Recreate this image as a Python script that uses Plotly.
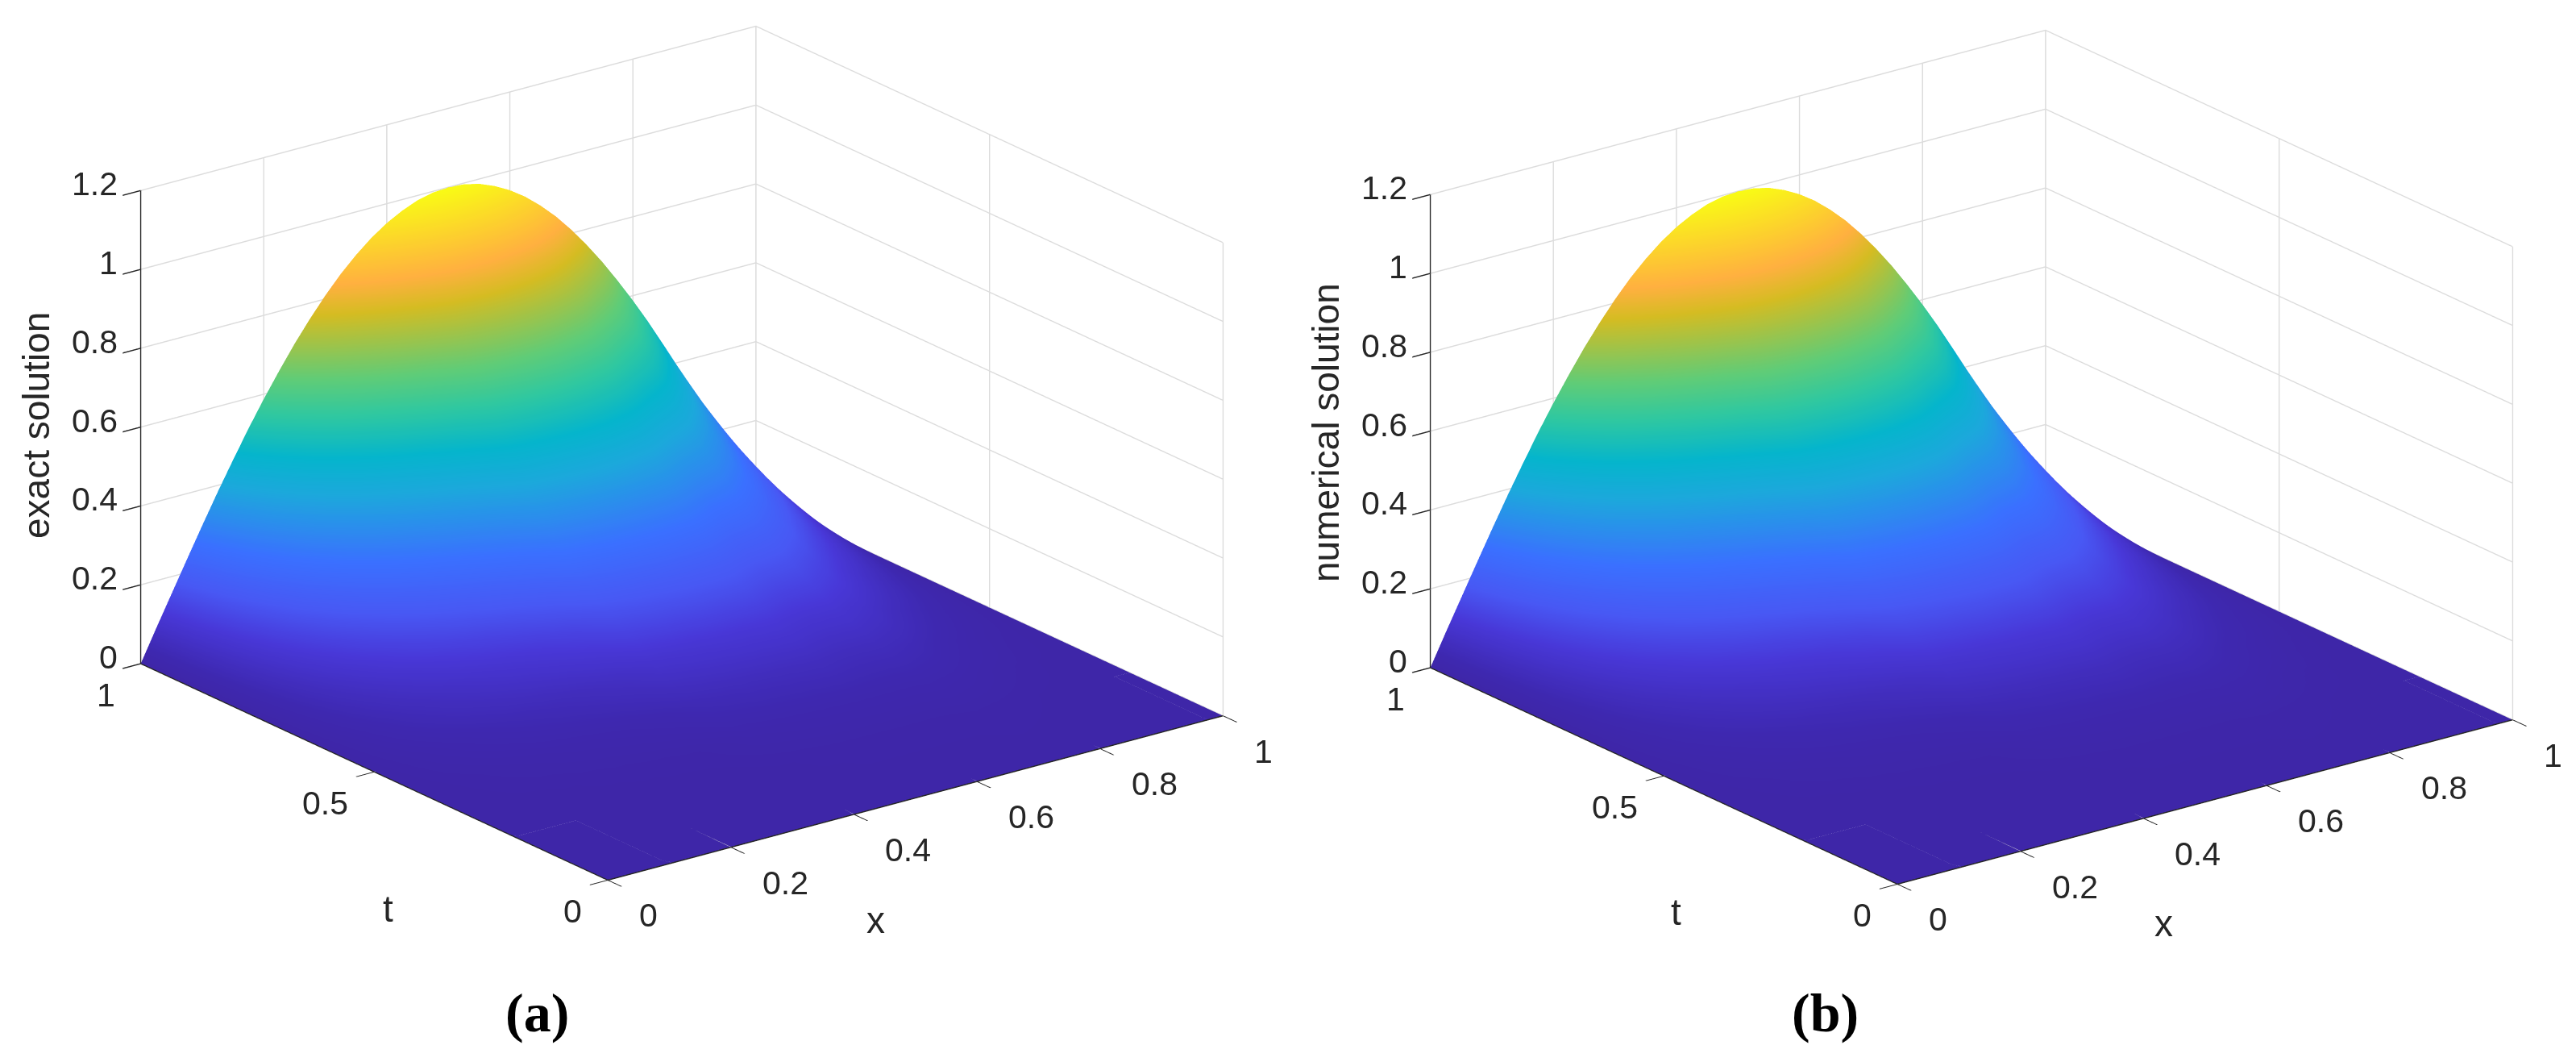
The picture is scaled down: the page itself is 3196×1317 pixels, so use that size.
import plotly.graph_objects as go

x_values = [0, 0.025, 0.05, 0.075, 0.1, 0.125, 0.15, 0.175, 0.2, 0.225, 0.25, 0.275, 0.3, 0.325,
            0.35, 0.375, 0.4, 0.425, 0.45, 0.475, 0.5, 0.525, 0.55, 0.575, 0.6, 0.625, 0.65,
            0.675, 0.7, 0.725, 0.75, 0.775, 0.8, 0.825, 0.85, 0.875, 0.9, 0.925, 0.95, 0.975, 1]
t_values = [0, 0.2, 0.3, 0.4, 0.5, 0.6, 0.65, 0.7, 0.75, 0.8, 0.85, 0.9, 0.95, 1]

# one row per t (both panels look the same)
exact_solution = [
    [0] * 41,
    [0, 0, 0, 0, 0, .001, .001, .001, .001, .001, .001, .001, .001, .001, .001, .002, .003, .004, .004, .005, .005,
     .006, .006, .006, .006, .006, .006, .006, .006, .007, .008, .007, .006, .005, .004, .003, .002, .001, .001, 0, 0],
    [0, .001, .001, .002, .003, .003, .004, .004, .005, .005, .006, .006, .007, .007, .008, .008, .011, .013, .017, .017, .019,
     .020, .021, .022, .022, .023, .023, .023, .023, .023, .024, .022, .020, .016, .012, .009, .007, .004, .003, .001, 0],
    [0, .002, .004, .006, .008, .010, .012, .013, .015, .017, .018, .019, .021, .023, .025, .029, .032, .038, .043, .047, .049,
     .052, .052, .054, .055, .057, .058, .055, .053, .053, .054, .050, .045, .037, .029, .022, .016, .010, .007, .003, 0],
    [0, .005, .010, .015, .019, .024, .028, .033, .037, .041, .044, .048, .051, .055, .060, .067, .073, .083, .094, .097, .102,
     .104, .108, .110, .110, .112, .112, .106, .102, .102, .102, .093, .084, .070, .057, .045, .034, .024, .015, .007, 0],
    [0, .010, .020, .030, .040, .050, .059, .068, .076, .084, .092, .099, .105, .113, .121, .133, .143, .159, .174, .180, .186,
     .189, .193, .195, .195, .195, .192, .183, .175, .173, .169, .155, .140, .119, .098, .078, .060, .043, .028, .013, 0],
    [0, .014, .028, .042, .055, .068, .081, .093, .105, .116, .126, .136, .144, .155, .166, .180, .193, .211, .228, .235, .242,
     .246, .249, .251, .251, .248, .245, .234, .222, .218, .211, .194, .176, .150, .125, .101, .078, .056, .036, .017, 0],
    [0, .019, .038, .056, .074, .092, .109, .125, .141, .156, .170, .183, .194, .209, .222, .238, .254, .274, .294, .301, .308,
     .312, .315, .316, .314, .312, .306, .293, .277, .270, .260, .239, .216, .185, .156, .127, .099, .072, .046, .023, 0],
    [0, .025, .049, .074, .098, .121, .144, .165, .186, .205, .224, .241, .256, .274, .290, .309, .328, .351, .372, .380, .386,
     .391, .394, .393, .390, .384, .376, .360, .342, .330, .316, .290, .263, .227, .192, .157, .123, .090, .059, .029, 0],
    [0, .032, .064, .096, .127, .157, .186, .214, .241, .266, .290, .311, .331, .353, .373, .395, .417, .440, .463, .472, .479,
     .482, .484, .481, .477, .467, .456, .436, .414, .398, .378, .347, .314, .274, .232, .192, .151, .112, .073, .036, 0],
    [0, .041, .082, .122, .161, .200, .237, .273, .307, .339, .369, .397, .422, .449, .472, .498, .521, .547, .569, .578, .585,
     .588, .588, .584, .574, .562, .547, .524, .497, .474, .448, .412, .373, .326, .279, .231, .184, .137, .090, .044, 0],
    [0, .052, .103, .153, .203, .251, .298, .343, .386, .426, .464, .499, .531, .562, .591, .619, .644, .669, .690, .700, .706,
     .708, .705, .697, .686, .670, .650, .621, .590, .560, .527, .484, .438, .385, .331, .276, .221, .165, .109, .054, 0],
    [0, .064, .127, .190, .252, .312, .370, .426, .479, .529, .576, .619, .659, .696, .730, .761, .787, .810, .829, .840, .844,
     .844, .837, .827, .811, .791, .764, .730, .693, .655, .612, .562, .509, .450, .389, .326, .262, .197, .131, .066, 0],
    [0, .079, .156, .233, .309, .383, .454, .523, .588, .649, .707, .760, .809, .853, .891, .924, .951, .972, .988, .997, 1,
     .997, .988, .972, .951, .924, .891, .853, .809, .760, .707, .649, .588, .523, .454, .383, .309, .233, .156, .079, 0],
]
numerical_solution = exact_solution

x_ticks = [0, 0.2, 0.4, 0.6, 0.8, 1]
t_ticks = [0, 0.5, 1]
z_ticks = [0, 0.2, 0.4, 0.6, 0.8, 1, 1.2]

parula = [
    [0, '#3e26a8'], [0.03, '#3e28b0'], [0.115, '#4838d8'], [0.18, '#4858f4'], [0.27, '#3a70ff'],
    [0.32, '#2e88f0'], [0.395, '#1ca8dc'], [0.47, '#05b5cc'], [0.555, '#30c8a0'], [0.63, '#5fcc78'],
    [0.77, '#d5bc22'], [0.83, '#ffb040'], [1, '#f9fb15'],
]

WIDTH = 3196
HEIGHT = 1317
TEXT = '#262626'
GRID = '#dcdcdc'
EYE = 1.5
BOX = 1.73
TICK_FONT = dict(family='Liberation Sans', size=41, color=TEXT)


def axis(ticks, upper):
    return dict(
        title=dict(text=''), range=[0, upper], tickvals=ticks, showticklabels=False,
        showbackground=False, showgrid=True, gridcolor=GRID, gridwidth=3,
        showline=True, linecolor=TEXT, linewidth=3, zeroline=False, showspikes=False,
        ticks='outside', ticklen=28, tickwidth=3, tickcolor=TEXT,
    )


def tick_label(value, px, py, pz, xanchor, xshift, yshift):
    return dict(x=px, y=py, z=pz, text=f'{value:g}', showarrow=False, font=TICK_FONT,
                xanchor=xanchor, xshift=xshift, yshift=yshift)


def tick_labels():
    labels = [tick_label(v, 0, 1, v, 'right', -27, 8) for v in z_ticks]
    labels += [tick_label(v, 0, v, 0, 'right', -30, -39) for v in t_ticks]
    labels += [tick_label(v, v, 0, 0, 'left', 37, -44) for v in x_ticks]
    return labels


def scene(left, right, top, bottom):
    return dict(
        domain=dict(x=[left / WIDTH, right / WIDTH], y=[1 - bottom / HEIGHT, 1 - top / HEIGHT]),
        xaxis=axis(x_ticks, 1), yaxis=axis(t_ticks, 1), zaxis=axis(z_ticks, 1.2),
        aspectmode='manual', aspectratio=dict(x=BOX, y=BOX, z=0.654 * BOX),
        annotations=tick_labels(),
        camera=dict(projection=dict(type='orthographic'), up=dict(x=0, y=0, z=1),
                    center=dict(x=0, y=0, z=0),
                    eye=dict(x=-0.566 * EYE, y=-0.7455 * EYE, z=0.3516 * EYE)),
    )


def surface(z, name):
    return go.Surface(
        x=x_values, y=t_values, z=z, name=name, scene=name, colorscale=parula, cmin=0, cmax=1,
        showscale=False, lighting=dict(ambient=1, diffuse=0, specular=0, roughness=1, fresnel=0),
    )


def label(text, px, py, size=46, angle=0, family='Liberation Sans', color=TEXT):
    return dict(text=text, x=px / WIDTH, y=1 - py / HEIGHT, xref='paper', yref='paper',
                xanchor='center', yanchor='middle', showarrow=False, textangle=angle,
                font=dict(family=family, size=size, color=color))


fig = go.Figure(data=[surface(exact_solution, 'scene'), surface(numerical_solution, 'scene2')])
fig.update_layout(
    width=WIDTH, height=HEIGHT, margin=dict(l=0, r=0, t=0, b=0), paper_bgcolor='white',
    scene=scene(0, 1676, 0, 1108),
    scene2=scene(1680, 3196, 5, 1113),
    annotations=[
        label('exact solution', 37, 520, angle=-90),
        label('t', 473, 1119),
        label('x', 1078, 1133),
        label('<b>(a)</b>', 658, 1248, size=68, family='Liberation Serif', color='black'),
        label('numerical solution', 1637, 528, angle=-90),
        label('t', 2071, 1123),
        label('x', 2676, 1137),
        label('<b>(b)</b>', 2256, 1248, size=68, family='Liberation Serif', color='black'),
    ],
)
fig.write_html("out.html")
